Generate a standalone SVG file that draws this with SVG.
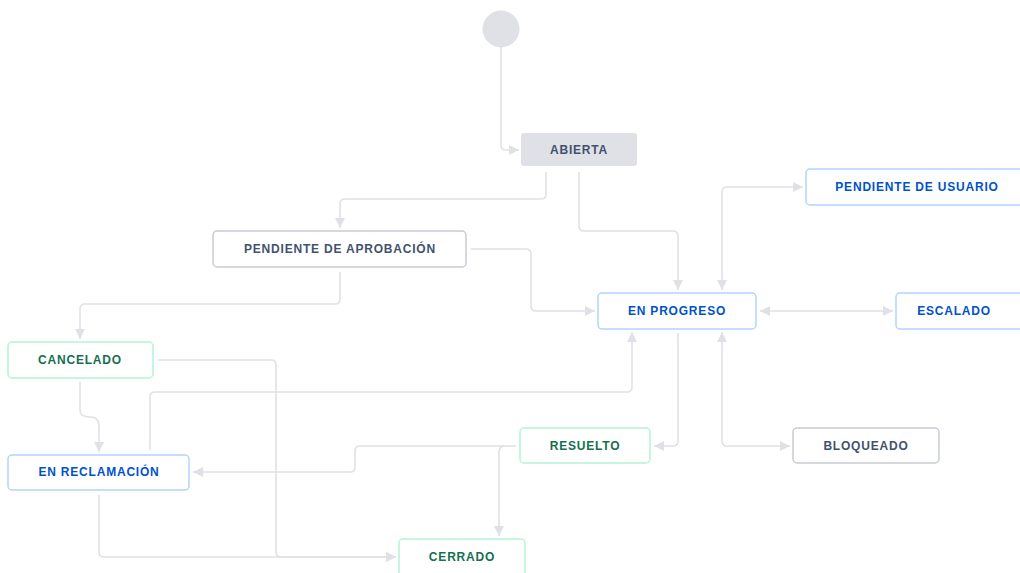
<svg xmlns="http://www.w3.org/2000/svg" width="1020" height="573" viewBox="0 0 1020 573">
<style>
.n rect{fill:#fff;stroke-width:1.5}
.g rect{stroke:#c8ccd4}
.b rect{stroke:#b3d4ff}
.gr rect{stroke:#b3f5d6}
.n text{font-family:"Liberation Sans",Arial,sans-serif;font-weight:bold;font-size:12px;letter-spacing:0.8px;text-anchor:middle;dominant-baseline:central}
.g text{fill:#42526e}
.b text{fill:#0052cc}
.gr text{fill:#14704f}
#c path{fill:none;stroke:#dfe1e6;stroke-width:1.6}
</style>
<defs>
<marker id="a" viewBox="0 0 10 10" refX="10" refY="5" markerWidth="10" markerHeight="10" markerUnits="userSpaceOnUse" orient="auto-start-reverse">
<path d="M0 0L10 5L0 10z" fill="#dfe1e6"/>
</marker>
</defs>
<g id="c">
<path d="M501 47V145Q501 150 506 150H519" marker-end="url(#a)"/>
<path d="M546 172V194Q546 199 541 199H345Q340 199 340 204V228" marker-end="url(#a)"/>
<path d="M579 172V226Q579 231 584 231H673Q678 231 678 236V290" marker-end="url(#a)"/>
<path d="M471 249H526Q531 249 531 254V306Q531 311 536 311H595" marker-end="url(#a)"/>
<path d="M340 272V299Q340 304 335 304H85Q80 304 80 309V339" marker-end="url(#a)"/>
<path d="M80 382V410Q80 417 90 417Q99 417 99 426V452" marker-end="url(#a)"/>
<path d="M158 360H271Q276 360 276 365V552Q276 557 281 557H396" marker-end="url(#a)"/>
<path d="M99 495V552Q99 557 104 557H396" marker-end="url(#a)"/>
<path d="M150 450V397Q150 392 155 392H627Q632 392 632 387V332" marker-end="url(#a)"/>
<path d="M516 446H360Q355 446 355 451V467Q355 472 350 472H193" marker-end="url(#a)"/>
<path d="M505 446Q499 446 499 452V536" marker-end="url(#a)"/>
<path d="M678 333V441Q678 446 673 446H654" marker-end="url(#a)"/>
<path d="M722 290V192Q722 187 727 187H803" marker-start="url(#a)" marker-end="url(#a)"/>
<path d="M760 311H893" marker-start="url(#a)" marker-end="url(#a)"/>
<path d="M722 332V441Q722 446 727 446H790" marker-start="url(#a)" marker-end="url(#a)"/>
</g>
<g id="start"><circle cx="501" cy="29" r="18.5" fill="#dfe1e6"/></g>
<g id="abierta" class="n g"><rect x="521" y="133" width="116" height="33" rx="3" style="fill:#dfe1e6;stroke:none"/><text x="579" y="150">ABIERTA</text></g>
<g id="pda" class="n g"><rect x="213" y="231" width="253" height="36" rx="4"/><text x="340" y="249">PENDIENTE DE APROBACIÓN</text></g>
<g id="enprogreso" class="n b"><rect x="598" y="293" width="158" height="36" rx="4"/><text x="677" y="311">EN PROGRESO</text></g>
<g id="pdu" class="n b"><rect x="806" y="169" width="222" height="36" rx="4"/><text x="917" y="187">PENDIENTE DE USUARIO</text></g>
<g id="escalado" class="n b"><rect x="896" y="293" width="132" height="36" rx="4"/><text x="954" y="311">ESCALADO</text></g>
<g id="bloqueado" class="n g"><rect x="793" y="428" width="146" height="35" rx="4"/><text x="866" y="446">BLOQUEADO</text></g>
<g id="resuelto" class="n gr"><rect x="520" y="428" width="130" height="35" rx="4"/><text x="585" y="446">RESUELTO</text></g>
<g id="cerrado" class="n gr"><rect x="399" y="539" width="126" height="40" rx="4"/><text x="462" y="557">CERRADO</text></g>
<g id="cancelado" class="n gr"><rect x="8" y="342" width="145" height="36" rx="4"/><text x="80" y="360">CANCELADO</text></g>
<g id="enreclamacion" class="n b"><rect x="8" y="455" width="181" height="35" rx="4"/><text x="99" y="472">EN RECLAMACIÓN</text></g>
</svg>
